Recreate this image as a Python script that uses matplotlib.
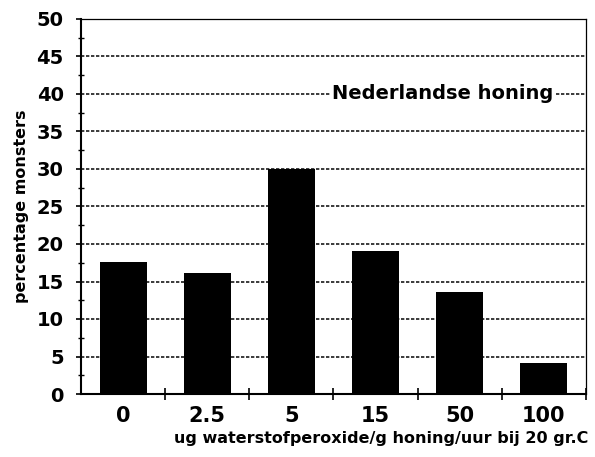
import numpy as np
import matplotlib
matplotlib.use('Agg')
import matplotlib.pyplot as plt
from matplotlib.ticker import MultipleLocator

plt.rcParams['font.family'] = ['DejaVu Sans']
plt.rcParams['font.weight'] = 'bold'

categories = ['0', '2.5', '5', '15', '50', '100']
percentages = [17.6, 16.2, 30.0, 19.0, 13.6, 4.2]
yticks = [0, 5, 10, 15, 20, 25, 30, 35, 40, 45, 50]

fig = plt.figure(figsize=(5.95, 4.57), dpi=100)
ax = fig.add_axes([81/595, 1 - 394/457, 505/595, 375/457])

x = np.arange(len(categories))
ax.bar(x, percentages, width=0.56, color='black', zorder=3)

ax.set_xlim(-0.5, len(categories) - 0.5)
ax.set_ylim(0, 50)
ax.set_yticks(yticks)
ax.yaxis.set_minor_locator(MultipleLocator(2.5))
ax.set_xticks(x)
ax.set_xticklabels(categories)
ax.set_xticks(np.arange(len(categories)) + 0.5, minor=True)

ax.tick_params(axis='y', which='major', direction='out', length=3.5, width=1.2,
               labelsize=14, pad=9)
ax.tick_params(axis='y', which='minor', direction='inout', length=4, width=1)
ax.tick_params(axis='x', which='major', length=0, labelsize=15, pad=9)
ax.tick_params(axis='x', which='minor', direction='inout', length=8, width=1.2)

ax.grid(True, axis='y', which='major', color='#1a1a1a', linestyle=(0, (2, 1)),
        linewidth=1.2, zorder=1)

for side in ['left', 'bottom']:
    ax.spines[side].set_linewidth(1.5)
for side in ['top', 'right']:
    ax.spines[side].set_linewidth(0.9)

ax.text(3.8, 40, 'Nederlandse honing', fontsize=14, ha='center', va='center',
        zorder=4, bbox=dict(facecolor='white', edgecolor='none', pad=1))

ax.set_ylabel('percentage monsters', fontsize=11.5, fontweight='bold')
ax.yaxis.set_label_coords(-0.103, 0.5)
fig.text(588/595, 1 - 439/457, 'ug waterstofperoxide/g honing/uur bij 20 gr.C',
         fontsize=11.5, ha='right', va='center')

plt.savefig('out.png', dpi=100)
